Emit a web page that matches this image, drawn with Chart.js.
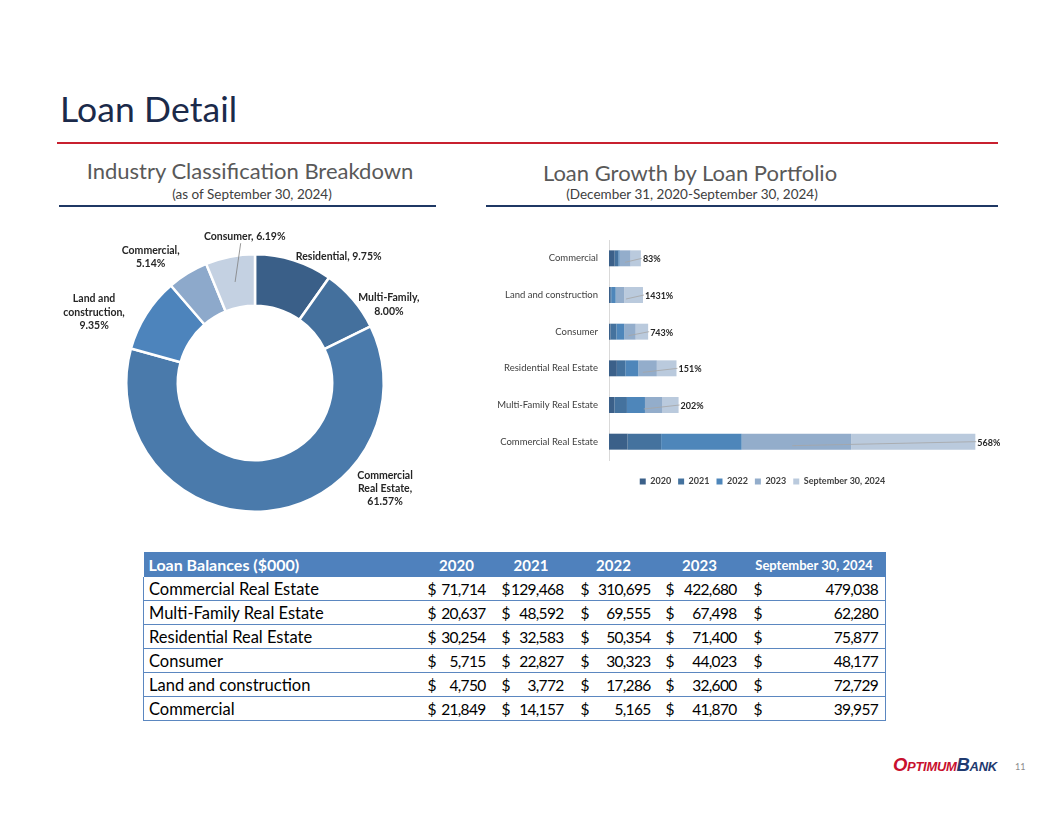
<!DOCTYPE html>
<html>
<head>
<meta charset="utf-8">
<script src="https://cdn.jsdelivr.net/npm/chart.js@4.4.1/dist/chart.umd.min.js"></script>
<style>
  html, body { margin: 0; padding: 0; background: #fff; }
  body { width: 1056px; height: 816px; position: relative; overflow: hidden; font-family: Lato, "Noto Sans", sans-serif; }
  .abs { position: absolute; }
  #title { left: 60px; top: 87px; font-size: 35.5px; color: #1b2a4a; font-weight: 400; letter-spacing: 0.1px; }
  #redLine { left: 57px; top: 142px; width: 941px; height: 1.5px; background: #c8202f; }
  .secTitle { font-size: 22px; color: #595959; text-align: center; white-space: nowrap; font-weight: 400; }
  .secSub { font-size: 13.5px; color: #404040; text-align: center; white-space: nowrap; }
  .underline { height: 2px; background: #1f3864; }
  #donutBox { left: 40px; top: 215px; width: 430px; height: 310px; }
  #barBox { left: 480px; top: 230px; width: 520px; height: 266px; }
  #loanTable { left: 143px; top: 552px; border-collapse: collapse; table-layout: fixed; width: 742px; }
  #loanTable td, #loanTable th { padding: 0; height: 23px; font-size: 16.5px; color: #000; white-space: nowrap; }
  #loanTable th { background: #4f81bd; color: #fff; font-weight: 700; height: 25px; text-align: center; font-size: 15px; }
  #loanTable th.lab { text-align: left; padding-left: 5px; font-size: 16px; }
  #loanTable th.small { font-size: 13px; }
  #loanTable tr.body td { border-bottom: 1.5px solid #5b87c0; }
  #loanTable td.lab { padding-left: 5px; border-left: 1px solid #5b87c0; }
  #loanTable td.last { border-right: 1px solid #5b87c0; }
  .cell { display: flex; justify-content: space-between; font-size: 15.5px; letter-spacing: -0.7px; }
  #logo { left: 893px; top: 754px; font-family: "Liberation Sans", Arial, sans-serif; font-weight: 700; font-style: italic; font-variant: small-caps; font-size: 18.5px; letter-spacing: -0.3px; }
  #pageNo { left: 1015px; top: 761px; font-size: 9px; color: #8c8c8c; }
</style>
</head>
<body>
<div id="title" class="abs">Loan Detail</div>
<div id="redLine" class="abs"></div>

<div class="abs secTitle" style="left:60px; top:157px; width:380px;">Industry Classification Breakdown</div>
<div class="abs secSub" style="left:60px; top:186px; width:384px;">(as of September 30, 2024)</div>
<div class="abs underline" style="left:59px; top:205px; width:377px;"></div>

<div class="abs secTitle" style="left:486px; top:159px; width:408px;">Loan Growth by Loan Portfolio</div>
<div class="abs secSub" style="left:486px; top:186px; width:412px;">(December 31, 2020-September 30, 2024)</div>
<div class="abs underline" style="left:486px; top:205px; width:512px;"></div>

<div id="donutBox" class="abs"><canvas id="donutChart"></canvas></div>
<div id="barBox" class="abs"><canvas id="barChart"></canvas></div>

<table id="loanTable" class="abs"></table>

<div id="logo" class="abs"><span style="color:#c8102e;">Optimum</span><span style="color:#1f3a70;">Bank</span></div>
<div id="pageNo" class="abs">11</div>

<script>
// Industry classification (as of Sep 30, 2024)
const sliceNames = ['Residential', 'Multi-Family', 'Commercial Real Estate', 'Land and construction', 'Commercial', 'Consumer'];
const slicePcts = [9.75, 8.00, 61.57, 9.35, 5.14, 6.19];
const sliceColors = ['#3a5f88', '#44709d', '#4a7aab', '#4d84bc', '#8da9cb', '#c4d1e2'];

// Loan balances ($000), table order
const portfolios = ['Commercial Real Estate', 'Multi-Family Real Estate', 'Residential Real Estate', 'Consumer', 'Land and construction', 'Commercial'];
const periods = ['2020', '2021', '2022', '2023', 'September 30, 2024'];
const bal2020 = [71714, 20637, 30254, 5715, 4750, 21849];
const bal2021 = [129468, 48592, 32583, 22827, 3772, 14157];
const bal2022 = [310695, 69555, 50354, 30323, 17286, 5165];
const bal2023 = [422680, 67498, 71400, 44023, 32600, 41870];
const balSep2024 = [479038, 62280, 75877, 48177, 72729, 39957];
const periodColors = ['#3b6089', '#44729e', '#4e86ba', '#93adcb', '#bacadd'];
const barAxisMax = 1420000;

// label placement around the donut (offset from centre in radius units, wrap width in px)
const sliceLabelLayout = [
    { dx: 0.65, dy: -0.98, wrap: 200 },
    { dx: 1.04, dy: -0.61, wrap: 75 },
    { dx: 1.01, dy: 0.82, wrap: 62 },
    { dx: -1.25, dy: -0.55, wrap: 72 },
    { dx: -0.81, dy: -0.98, wrap: 70 },
    { dx: -0.08, dy: -1.14, wrap: 200, leader: true }
];

function fmt(n) {
    return n.toLocaleString('en-US');
}

function wrapText(ctx, text, maxW) {
    const words = text.split(' ');
    const lines = [];
    let cur = '';
    words.forEach(w => {
        const test = cur ? cur + ' ' + w : w;
        if (cur && ctx.measureText(test).width > maxW) {
            lines.push(cur);
            cur = w;
        } else {
            cur = test;
        }
    });
    lines.push(cur);
    return lines;
}

const donutLabels = {
    id: 'donutLabels',
    afterDatasetsDraw(chart) {
        const ctx = chart.ctx;
        const arcs = chart.getDatasetMeta(0).data;
        const cx = arcs[0].x, cy = arcs[0].y, r = arcs[0].outerRadius, ri = arcs[0].innerRadius;
        ctx.save();
        ctx.font = 'bold 10.5px Lato, sans-serif';
        ctx.fillStyle = '#262626';
        ctx.textAlign = 'center';
        ctx.textBaseline = 'middle';
        const lh = 13.3;
        sliceNames.forEach((name, i) => {
            const lay = sliceLabelLayout[i];
            const lines = wrapText(ctx, name + ', ' + slicePcts[i].toFixed(2) + '%', lay.wrap);
            const x = cx + lay.dx * r;
            const y0 = cy + lay.dy * r - (lines.length - 1) * lh / 2;
            lines.forEach((ln, k) => ctx.fillText(ln, x, y0 + k * lh));
            if (lay.leader) {
                const a = arcs[i];
                const mid = (a.startAngle + a.endAngle) / 2;
                const rr = (r + ri) / 2;
                ctx.strokeStyle = '#7f7f7f';
                ctx.lineWidth = 0.8;
                ctx.beginPath();
                ctx.moveTo(x - 4, y0 + (lines.length - 1) * lh + 7);
                ctx.lineTo(cx + Math.cos(mid) * rr, cy + Math.sin(mid) * rr);
                ctx.stroke();
            }
        });
        ctx.restore();
    }
};

new Chart(document.getElementById('donutChart'), {
    type: 'doughnut',
    data: {
        labels: sliceNames,
        datasets: [{
            data: slicePcts,
            backgroundColor: sliceColors,
            borderColor: '#ffffff',
            borderWidth: 2.5
        }]
    },
    options: {
        responsive: true,
        maintainAspectRatio: false,
        animation: false,
        cutout: '60%',
        layout: { padding: { left: 85, right: 85, top: 38, bottom: 12 } },
        plugins: {
            legend: { display: false },
            tooltip: { enabled: false }
        }
    },
    plugins: [donutLabels]
});

// growth labels at the end of each stacked bar
const growthLabels = {
    id: 'growthLabels',
    afterDatasetsDraw(chart) {
        const ctx = chart.ctx;
        const last = chart.getDatasetMeta(periods.length - 1).data;
        const base = chart.scales.x.getPixelForValue(0);
        ctx.save();
        ctx.font = 'bold 9px Lato, sans-serif';
        ctx.textBaseline = 'middle';
        last.forEach((bar, i) => {
            const growth = Math.round((balSep2024[i] / bal2020[i] - 1) * 100) + '%';
            const midX = (base + bar.x) / 2;
            ctx.strokeStyle = '#a6a6a6';
            ctx.lineWidth = 0.8;
            ctx.beginPath();
            ctx.moveTo(midX, bar.y + 4);
            ctx.lineTo(bar.x + 1, bar.y);
            ctx.stroke();
            ctx.fillStyle = '#262626';
            ctx.fillText(growth, bar.x + 2, bar.y + 1);
        });
        ctx.restore();
    }
};

// the legend sits a little right of the canvas centre in the original
const legendShift = {
    id: 'legendShift',
    afterLayout(chart) {
        const lg = chart.legend;
        if (lg) { lg.left += 34; lg.right += 34; }
    }
};

const balances = [bal2020, bal2021, bal2022, bal2023, balSep2024];

new Chart(document.getElementById('barChart'), {
    type: 'bar',
    data: {
        labels: portfolios,
        datasets: periods.map((p, i) => ({
            label: p,
            data: balances[i],
            backgroundColor: periodColors[i],
            borderWidth: 0,
            categoryPercentage: 0.5,
            barPercentage: 0.87
        }))
    },
    options: {
        indexAxis: 'y',
        responsive: true,
        maintainAspectRatio: false,
        animation: false,
        layout: { padding: { left: 0, right: 23, top: 10, bottom: 0 } },
        scales: {
            x: {
                stacked: true, min: 0, max: barAxisMax,
                grid: { display: false },
                border: { display: false },
                ticks: { display: false },
                afterFit(scale) { scale.height = 10; }
            },
            y: {
                stacked: true,
                reverse: true,
                grid: { display: false },
                border: { display: true, color: '#d9d9d9' },
                ticks: { color: '#404040', font: { family: 'Lato', size: 9.5 }, padding: 3 },
                afterFit(scale) { scale.width = 129; }
            }
        },
        plugins: {
            legend: {
                position: 'bottom',
                labels: {
                    boxWidth: 6,
                    boxHeight: 6,
                    padding: 7,
                    color: '#404040',
                    font: { family: 'Lato', size: 9, weight: 'bold' }
                }
            },
            tooltip: { enabled: false }
        }
    },
    plugins: [growthLabels, legendShift]
});

// loan balance table
const table = document.getElementById('loanTable');
const colWidths = [278, 70, 79, 86, 86, 143];
const cellPads = [[6, 6], [10, 7], [10, 6], [9, 6], [11, 7]];
let html = '<colgroup>' + colWidths.map(w => '<col style="width:' + w + 'px">').join('') + '</colgroup>';
html += '<tr><th class="lab">Loan Balances ($000)</th>' +
    periods.map((p, i) => '<th class="' + (i === periods.length - 1 ? 'small' : '') + '">' + p + '</th>').join('') + '</tr>';
portfolios.forEach((name, r) => {
    html += '<tr class="body"><td class="lab">' + name + '</td>';
    balances.forEach((arr, c) => {
        const pad = cellPads[c];
        html += '<td class="' + (c === balances.length - 1 ? 'last' : '') + '"><div class="cell" style="padding:0 ' + pad[1] + 'px 0 ' + pad[0] + 'px"><span>$</span><span>' + fmt(arr[r]) + '</span></div></td>';
    });
    html += '</tr>';
});
table.innerHTML = html;
</script>
</body>
</html>
